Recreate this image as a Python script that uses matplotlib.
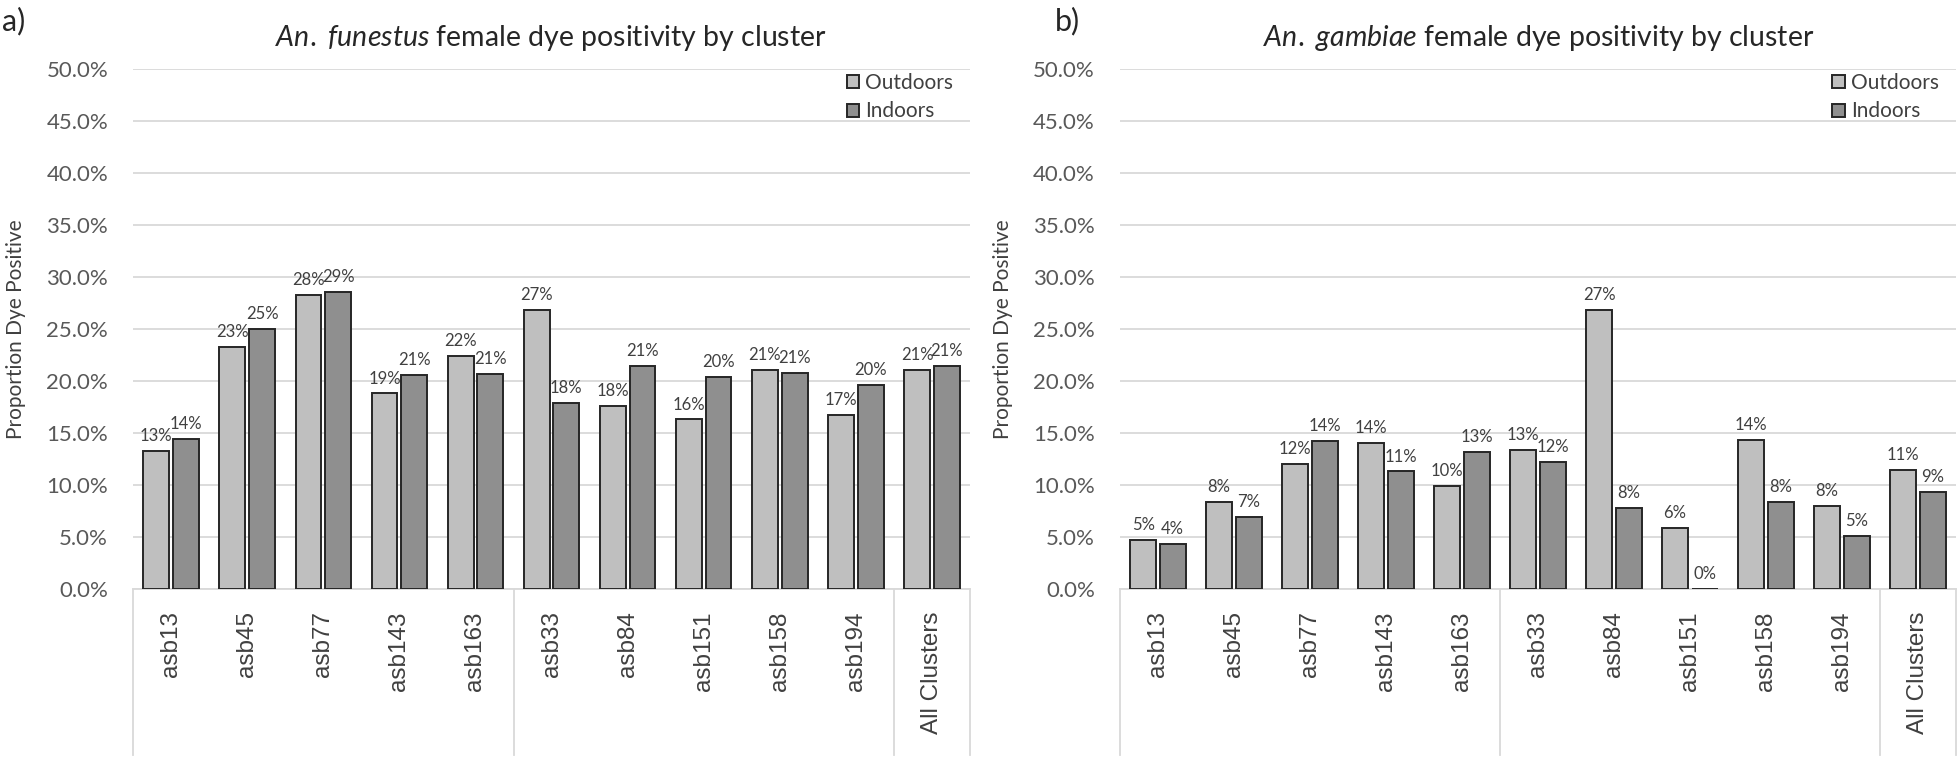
import numpy as np
import matplotlib
matplotlib.use("Agg")
import matplotlib.pyplot as plt
from matplotlib.ticker import PercentFormatter

plt.rcParams['font.family'] = ['Lato', 'DejaVu Sans']
plt.rcParams['mathtext.fontset'] = 'custom'
plt.rcParams['mathtext.rm'] = 'Lato'
plt.rcParams['mathtext.it'] = 'Lato:italic'

# Datos
clusters = ["asb13", "asb45", "asb77", "asb143", "asb163",
            "asb33", "asb84", "asb151", "asb158", "asb194", "All Clusters"]
grupos = [0, 5, 10, 11]  # limites de los grupos en el eje de categorias

funestus_out = [0.133, 0.233, 0.283, 0.188, 0.224, 0.268, 0.176, 0.163, 0.211, 0.167, 0.211]
funestus_in = [0.144, 0.250, 0.286, 0.206, 0.207, 0.179, 0.214, 0.204, 0.208, 0.196, 0.214]

gambiae_out = [0.047, 0.084, 0.120, 0.140, 0.099, 0.134, 0.268, 0.059, 0.143, 0.080, 0.114]
gambiae_in = [0.043, 0.069, 0.142, 0.113, 0.132, 0.122, 0.078, 0.000, 0.084, 0.051, 0.093]

c_out = "#bfbfbf"
c_in = "#8f8f8f"
c_grid = "#d9d9d9"
c_text = "#404040"

fig = plt.figure(figsize=(19.6, 7.58), dpi=100)
ax1 = fig.add_axes([0.0679, 0.223, 0.427, 0.686])
ax2 = fig.add_axes([0.5714, 0.223, 0.4265, 0.686])

# (eje, outdoors, indoors, titulo, letra, x de la letra, x del titulo)
paneles = [
    (ax1, funestus_out, funestus_in, r"$\it{An.\ funestus}$ female dye positivity by cluster", "a)", 0.001, 0.281),
    (ax2, gambiae_out, gambiae_in, r"$\it{An.\ gambiae}$ female dye positivity by cluster", "b)", 0.538, 0.785),
]

x = np.arange(len(clusters))
w = 0.34
for ax, v_out, v_in, titulo, letra, x_letra, x_tit in paneles:
    b1 = ax.bar(x - 0.195, v_out, w, color=c_out, edgecolor="#262626", linewidth=1.4, label="Outdoors", zorder=3)
    b2 = ax.bar(x + 0.195, v_in, w, color=c_in, edgecolor="#262626", linewidth=1.4, label="Indoors", zorder=3)
    for b in (b1, b2):
        ax.bar_label(b, labels=["{:.0%}".format(v) for v in b.datavalues],
                     padding=5, fontsize=12, color=c_text)

    ax.set_xlim(-0.5, len(clusters) - 0.5)
    ax.set_ylim(0, 0.5)
    ax.set_yticks(np.arange(0, 0.501, 0.05))
    ax.yaxis.set_major_formatter(PercentFormatter(1.0, decimals=1))
    ax.grid(axis="y", color=c_grid, linewidth=1.3, zorder=0)
    for s in ["top", "right", "left"]:
        ax.spines[s].set_visible(False)
    ax.spines["bottom"].set_color(c_grid)
    ax.spines["bottom"].set_linewidth(1.3)

    ax.set_xticks(x)
    ax.set_xticklabels(clusters, rotation=90, fontsize=17.5, color=c_text,
                       family=["Liberation Sans", "DejaVu Sans"])
    ax.tick_params(axis="x", length=0, pad=16)
    ax.tick_params(axis="y", length=0, pad=18, labelsize=16, labelcolor="#595959")
    ax.set_ylabel("Proportion Dye Positive", fontsize=15, color=c_text)
    ax.yaxis.set_label_coords(-0.128, 0.5)

    # lineas separadoras de los grupos
    for g in grupos:
        ax.plot([g - 0.5, g - 0.5], [0, -0.32], color=c_grid, linewidth=1.3,
                transform=ax.get_xaxis_transform(), clip_on=False)

    ax.legend(loc="upper right", bbox_to_anchor=(0.99, 1.008), frameon=False,
              fontsize=15, handlelength=0.6, handleheight=0.6, handletextpad=0.3,
              labelspacing=0.4, borderaxespad=0, labelcolor=c_text)

    fig.text(x_tit, 0.95, titulo, ha="center", va="center", fontsize=20.5, color="#262626")
    fig.text(x_letra, 0.972, letra, ha="left", va="center", fontsize=22, color="#262626")

plt.savefig("out.png", dpi=100)
